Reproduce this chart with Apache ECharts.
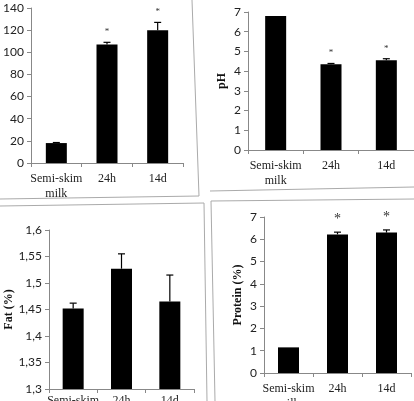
<!DOCTYPE html>
<html>
<head>
<meta charset="utf-8">
<script src="https://cdn.jsdelivr.net/npm/echarts@6/dist/echarts.min.js"></script>
<style>
  html, body { margin: 0; padding: 0; background: #fff; }
  #chart { width: 414px; height: 401px; }
</style>
</head>
<body>
<div id="chart"></div>
<script>
// categories shared by all panels
const categories = ["Semi-skim\nmilk", "24h", "14d"];

// top-left panel (axis title cut off in the reference)
const aValues = [18, 107, 120];
const aErrors = [0.5, 2, 7];
const aStars = [0, 1, 1];

// pH
const phValues = [6.8, 4.35, 4.55];
const phErrors = [0, 0.04, 0.08];
const phStars = [0, 1, 1];

// Fat (%)
const fatValues = [1.452, 1.527, 1.465];
const fatErrors = [0.01, 0.028, 0.05];
const fatStars = [0, 0, 0];

// Protein (%)
const proteinValues = [1.15, 6.22, 6.3];
const proteinErrors = [0, 0.1, 0.12];
const proteinStars = [0, 1, 1];

const myChart = echarts.init(document.getElementById("chart"), null, { renderer: "canvas" });

const tickFont = { fontFamily: "Lato", fontSize: 12, color: "#222" };
const catFont = { fontFamily: "Liberation Serif", fontSize: 12, color: "#222", lineHeight: 15 };
const nameFont = { fontFamily: "Liberation Serif", fontSize: 12, fontWeight: "bold", color: "#111" };

function errorRender(errs, stars, starSize) {
  return function(params, api) {
    const i = api.value(0);
    const v = api.value(1);
    const e = errs[i];
    const base = api.coord([i, v]);
    const top = api.coord([i, v + e]);
    const children = [];
    if (e > 0) {
      children.push({
        type: "line",
        shape: { x1: top[0], y1: base[1], x2: top[0], y2: top[1] },
        style: { stroke: "#000", lineWidth: 1.2 }
      });
      children.push({
        type: "line",
        shape: { x1: top[0] - 3.5, y1: top[1], x2: top[0] + 3.5, y2: top[1] },
        style: { stroke: "#000", lineWidth: 1.2 }
      });
    }
    if (stars[i]) {
      children.push({
        type: "text",
        style: {
          text: "*",
          x: top[0],
          y: top[1] - 6,
          align: "center",
          verticalAlign: "bottom",
          fontFamily: "Liberation Serif",
          fontSize: starSize,
          fill: "#333"
        }
      });
    }
    return { type: "group", children: children };
  };
}

function xAx(gridIndex, margin) {
  return {
    type: "category",
    gridIndex: gridIndex,
    data: categories,
    axisLine: { lineStyle: { color: "#888" } },
    axisTick: { show: true, alignWithLabel: false, length: 4, lineStyle: { color: "#888" } },
    axisLabel: Object.assign({ margin: margin, interval: 0 }, catFont)
  };
}

function yAx(gridIndex, min, max, interval, name, fmt, nameGap) {
  return {
    type: "value",
    gridIndex: gridIndex,
    min: min,
    max: max,
    interval: interval,
    name: name,
    nameLocation: "middle",
    nameGap: nameGap,
    nameTextStyle: nameFont,
    axisLine: { show: true, lineStyle: { color: "#888" } },
    axisTick: { show: true, length: 4, lineStyle: { color: "#888" } },
    splitLine: { show: false },
    axisLabel: Object.assign({ margin: 7, formatter: fmt }, tickFont)
  };
}

const commaFmt = function(v) {
  return String(Math.round(v * 100) / 100).replace(".", ",");
};

function barSeries(idx, values) {
  return {
    type: "bar",
    xAxisIndex: idx,
    yAxisIndex: idx,
    data: values,
    barWidth: 21,
    itemStyle: { color: "#000" },
    silent: true
  };
}

function errSeries(idx, values, errs, stars, starSize) {
  return {
    type: "custom",
    xAxisIndex: idx,
    yAxisIndex: idx,
    data: values.map(function(v, i) { return [i, v]; }),
    renderItem: errorRender(errs, stars, starSize),
    z: 5,
    silent: true
  };
}

const borderStyle = { stroke: "#aaa", lineWidth: 1 };

function grid(left, top, width, height) {
  return { left: left, top: top, width: width, height: height, containLabel: false, outerBoundsMode: "none" };
}

const option = {
  animation: false,
  backgroundColor: "#fff",
  grid: [
    grid(31, 8, 152, 155),
    grid(248, 12, 166, 138),
    grid(49, 230, 145, 159),
    grid(264, 217, 147, 156)
  ],
  xAxis: [xAx(0, 8), xAx(1, 8), xAx(2, 4), xAx(3, 8)],
  yAxis: [
    yAx(0, 0, 140, 20, "", null, 40),
    yAx(1, 0, 7, 1, "pH", null, 20),
    yAx(2, 1.3, 1.6, 0.05, "Fat (%)", commaFmt, 33),
    yAx(3, 0, 7, 1, "Protein (%)", null, 20)
  ],
  series: [
    barSeries(0, aValues),
    errSeries(0, aValues, aErrors, aStars, 9),
    barSeries(1, phValues),
    errSeries(1, phValues, phErrors, phStars, 9),
    barSeries(2, fatValues),
    errSeries(2, fatValues, fatErrors, fatStars, 12),
    barSeries(3, proteinValues),
    errSeries(3, proteinValues, proteinErrors, proteinStars, 14)
  ],
  graphic: [
    // panel frames of the scanned figure
    { type: "line", shape: { x1: 192, y1: 0, x2: 199, y2: 196 }, style: borderStyle, silent: true },
    { type: "line", shape: { x1: 0, y1: 199, x2: 199, y2: 196 }, style: borderStyle, silent: true },
    { type: "line", shape: { x1: 210, y1: 191, x2: 414, y2: 187 }, style: borderStyle, silent: true },
    { type: "line", shape: { x1: 0, y1: 206, x2: 204, y2: 203 }, style: borderStyle, silent: true },
    { type: "line", shape: { x1: 204, y1: 203, x2: 207, y2: 401 }, style: borderStyle, silent: true },
    { type: "line", shape: { x1: 211, y1: 201, x2: 414, y2: 199 }, style: borderStyle, silent: true },
    { type: "line", shape: { x1: 211, y1: 201, x2: 215, y2: 401 }, style: borderStyle, silent: true }
  ]
};

myChart.setOption(option);
</script>
</body>
</html>
